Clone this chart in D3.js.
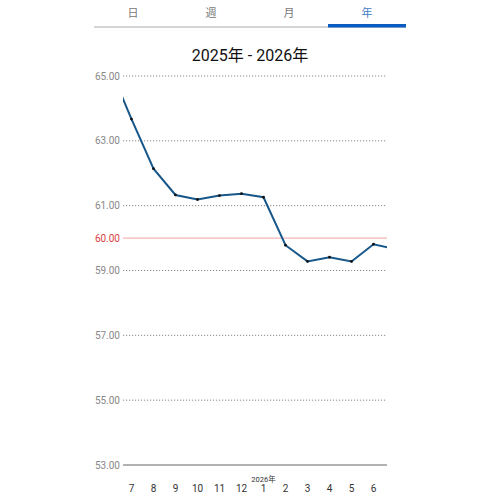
<!DOCTYPE html>
<html>
<head>
<meta charset="utf-8">
<script src="https://cdn.jsdelivr.net/npm/d3@7"></script>
<style>
  body { margin: 0; background: #fff; }
  svg { display: block; font-family: Roboto, "Noto Sans CJK JP", sans-serif; }
</style>
</head>
<body>
<svg id="chart" width="500" height="500"></svg>
<script>
// tabs
const tabs = ["日", "週", "月", "年"];
const activeTab = 3;

// months shown on the axis (Jul 2025 .. Jun 2026)
const months = ["7", "8", "9", "10", "11", "12", "1", "2", "3", "4", "5", "6"];
const values = [63.67, 62.14, 61.33, 61.19, 61.31, 61.37, 61.26, 59.78, 59.28, 59.41, 59.28, 59.81];
// neighbours outside the visible window (Jun 2025, Jul 2026)
const prevValue = 65.28;
const nextValue = 59.66;

const yTicks = [65, 63, 61, 59, 57, 55, 53];
const targetValue = 60;

const svg = d3.select("#chart");

// tab bar
const tabX = d3.scaleBand().domain(d3.range(tabs.length)).range([94, 406]);
svg.append("line")
    .attr("x1", 94).attr("x2", 406)
    .attr("y1", 27).attr("y2", 27)
    .style("stroke", "#aaa").style("stroke-width", 1);
svg.append("rect")
    .attr("x", tabX(activeTab)).attr("y", 24)
    .attr("width", tabX.bandwidth()).attr("height", 3.5)
    .style("fill", "#0a5cc2");
svg.selectAll(".tab")
    .data(tabs)
    .join("text")
    .attr("class", "tab")
    .attr("x", (d, i) => tabX(i) + tabX.bandwidth() / 2)
    .attr("y", 17)
    .attr("text-anchor", "middle")
    .style("font-size", "11px")
    .style("font-family", "'Noto Sans CJK JP', sans-serif")
    .style("fill", (d, i) => i === activeTab ? "#3f7cc4" : "#777")
    .text(d => d);

// title
svg.append("text")
    .attr("x", 250).attr("y", 61)
    .attr("text-anchor", "middle")
    .style("font-size", "16px")
    .style("fill", "#111")
    .text("2025年 - 2026年");

const x = d3.scaleLinear().domain([0, months.length - 1]).range([131.5, 373.5]);
const y = d3.scaleLinear().domain([53, 65]).range([465, 76]);
const left = 123, right = 387;

// grid
svg.selectAll(".grid")
    .data(yTicks.filter(d => d !== 53))
    .join("line")
    .attr("class", "grid")
    .attr("x1", left).attr("x2", right)
    .attr("y1", d => y(d)).attr("y2", d => y(d))
    .style("stroke", "#888")
    .style("stroke-width", 1)
    .style("stroke-dasharray", "1.2,1.8");
svg.append("line")
    .attr("x1", left).attr("x2", right)
    .attr("y1", y(53)).attr("y2", y(53))
    .style("stroke", "#666").style("stroke-width", 1);

svg.selectAll(".ylab")
    .data(yTicks)
    .join("text")
    .attr("class", "ylab")
    .attr("x", 120)
    .attr("y", d => y(d) + 3.5)
    .attr("text-anchor", "end")
    .style("font-size", "10px")
    .style("fill", "#888")
    .text(d => d.toFixed(2));

// target line
svg.append("line")
    .attr("x1", left).attr("x2", right)
    .attr("y1", y(targetValue)).attr("y2", y(targetValue))
    .style("stroke", "#f4a3a3").style("stroke-width", 1);
svg.append("text")
    .attr("x", 120).attr("y", y(targetValue) + 3.5)
    .attr("text-anchor", "end")
    .style("font-size", "10px")
    .style("fill", "#d94040")
    .text(targetValue.toFixed(2));

// line
svg.append("clipPath").attr("id", "clip")
    .append("rect").attr("x", left).attr("y", 0)
    .attr("width", right - left).attr("height", 500);

const pts = [[-1, prevValue]].concat(values.map((v, i) => [i, v]), [[months.length, nextValue]]);
const line = d3.line().x(d => x(d[0])).y(d => y(d[1]));
const g = svg.append("g").attr("clip-path", "url(#clip)");
g.append("path")
    .datum(pts)
    .attr("d", line)
    .style("fill", "none")
    .style("stroke", "#17578a")
    .style("stroke-width", 2);
g.selectAll(".dot")
    .data(values)
    .join("circle")
    .attr("class", "dot")
    .attr("cx", (d, i) => x(i))
    .attr("cy", d => y(d))
    .attr("r", 1.4)
    .style("fill", "#111");

// x labels
svg.selectAll(".xlab")
    .data(months)
    .join("text")
    .attr("class", "xlab")
    .attr("x", (d, i) => x(i))
    .attr("y", 492)
    .attr("text-anchor", "middle")
    .style("font-size", "10px")
    .style("fill", "#333")
    .text(d => d);
svg.append("text")
    .attr("x", x(months.indexOf("1")))
    .attr("y", 482)
    .attr("text-anchor", "middle")
    .style("font-size", "7.5px")
    .style("fill", "#333")
    .text("2026年");
</script>
</body>
</html>
